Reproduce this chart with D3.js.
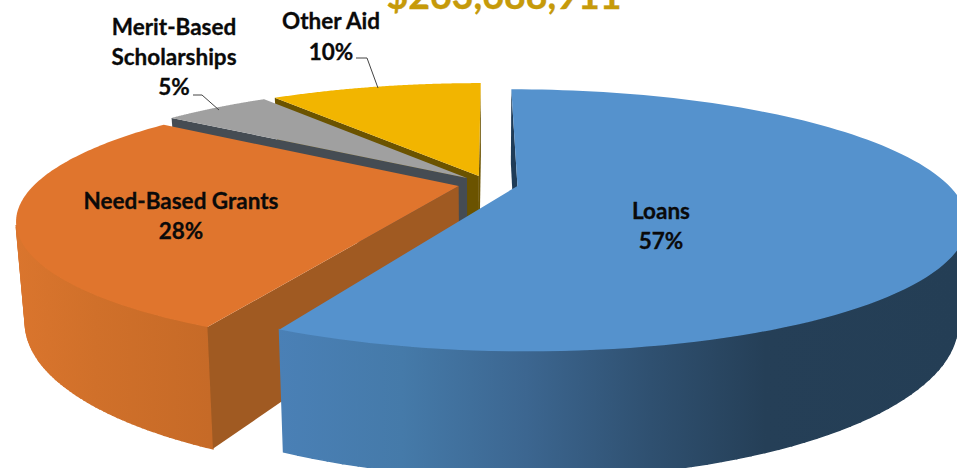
<!DOCTYPE html>
<html>
<head>
<meta charset="utf-8">
<script src="https://cdnjs.cloudflare.com/ajax/libs/d3/7.8.5/d3.min.js"></script>
<style>
html, body { margin: 0; padding: 0; background: #fff; overflow: hidden; }
svg { display: block; }
text { font-family: Lato, "Open Sans", sans-serif; font-weight: 700; fill: #0a0a0a; stroke: #0a0a0a; stroke-width: 0.3px; }
</style>
</head>
<body>
<svg id="chart" width="957" height="468"></svg>
<script>
var titleText = '$263,688,911';
var categories = ['Loans', 'Need-Based Grants', 'Merit-Based Scholarships', 'Other Aid'];
var values = [57.2, 27.8, 5, 10];
var topColors = ['#5592cd', '#e0752d', '#a0a0a0', '#f2b500'];
var faceColors = ['#1f3c58', '#a05a22', '#454c53', '#6b5300'];
var radii = [1, 0.985, 1, 1];

var _CX = 488, _CY = 184,
  _A = 430, _B = 121, _DEPTH = 93,
  _PERSP = 0.2615, _SHRINK = 0.02, _EXPLODE = 0.07;

var svg = d3.select('#chart');

var xScale = d3.scaleLinear().domain([-1, 1]).range([_CX - _A, _CX + _A]);
var yScale = d3.scaleLinear().domain([-1, 1]).range([_CY - _B, _CY + _B]);
var zScale = d3.scaleLinear().domain([0, 1]).range([0, _DEPTH]);

// disk coords to screen, z = 0 on top of the pie and 1 at the bottom
function project(u, v, z) {
  var w = 1 - _PERSP * v;
  return [
    _CX + (xScale(u) - _CX) / (w * (1 + _SHRINK * z)),
    (yScale(v) + zScale(z)) / w + _CY * (1 - 1 / w)
  ];
}

var pie = d3.pie().sort(null).startAngle(0).endAngle(2 * Math.PI);
var arcs = pie(values);

var line = d3.line();

var defs = svg.append('defs');

function wallGradient(id, stops) {
  var g = defs.append('linearGradient')
    .attr('id', id)
    .attr('gradientUnits', 'userSpaceOnUse')
    .attr('x1', 0).attr('y1', 0)
    .attr('x2', 957).attr('y2', 0);
  g.selectAll('stop').data(stops).enter().append('stop')
    .attr('offset', function(d) { return d[0]; })
    .attr('stop-color', function(d) { return d[1]; });
}

wallGradient('wall-0', [[0.29, '#4a80b6'], [0.42, '#457aa9'], [0.55, '#3c6690'], [0.68, '#2f5070'], [0.8, '#253f57'], [1, '#243e55']]);
wallGradient('wall-1', [[0, '#dc762e'], [0.1, '#d0702a'], [0.22, '#c66a27'], [1, '#c06425']]);
wallGradient('wall-2', [[0, '#5a5f64'], [1, '#5a5f64']]);
wallGradient('wall-3', [[0, '#7c6100'], [1, '#7c6100']]);

// painted back to front
var order = [3, 2, 1, 0];

order.forEach(function(i) {
  var a = arcs[i];
  var mid = (a.startAngle + a.endAngle) / 2;
  var r = radii[i];
  var ox = _EXPLODE * Math.sin(mid), oy = -_EXPLODE * Math.cos(mid);
  var steps = d3.range(0, 121).map(function(k) {
    return a.startAngle + (a.endAngle - a.startAngle) * k / 120;
  });
  function rim(t, z) { return project(ox + r * Math.sin(t), oy - r * Math.cos(t), z); }
  var apex0 = project(ox, oy, 0), apex1 = project(ox, oy, 1);

  var g = svg.append('g').attr('class', 'slice slice-' + i);

  // outer wall, one strip per step, back strips are skipped
  d3.pairs(steps).forEach(function(p) {
    var strip = [rim(p[0], 0), rim(p[1], 0), rim(p[1], 1), rim(p[0], 1)];
    if (d3.polygonArea(strip) < 0) return;
    g.append('path')
      .attr('d', line(strip) + 'Z')
      .attr('fill', 'url(#wall-' + i + ')')
      .attr('stroke', 'url(#wall-' + i + ')')
      .attr('stroke-width', 1.5);
  });

  // cut faces, only the ones turned to the viewer (d3.polygonArea is y-down)
  [[a.startAngle, 1], [a.endAngle, -1]].forEach(function(f) {
    var quad = [apex0, rim(f[0], 0), rim(f[0], 1), apex1];
    if (d3.polygonArea(quad) * f[1] > 0) {
      g.append('path')
        .attr('d', line(quad) + 'Z')
        .attr('fill', faceColors[i]);
    }
  });

  // top
  var top = [apex0].concat(steps.map(function(t) { return rim(t, 0); }));
  g.append('path')
    .attr('d', line(top) + 'Z')
    .attr('fill', topColors[i]);
});

// leader lines
var leaders = [
  [[356, 58], [367, 58], [378, 88]],
  [[193, 95], [202, 95], [219, 110]]
];
svg.selectAll('path.leader').data(leaders).enter().append('path')
  .attr('class', 'leader')
  .attr('d', function(d) { return line(d); })
  .attr('fill', 'none')
  .attr('stroke', '#444')
  .attr('stroke-width', 1);

function label(x, lines) {
  var t = svg.append('text').attr('text-anchor', 'middle').style('font-size', '22.5px');
  lines.forEach(function(l) {
    t.append('tspan').attr('x', x).attr('y', l[1]).text(l[0]);
  });
}

function pct(i) { return Math.round(values[i]) + '%'; }

label(661, [[categories[0], 219], [pct(0), 249]]);
label(181, [[categories[1], 209], [pct(1), 239]]);
label(174, [['Merit-Based', 35], ['Scholarships', 65], [pct(2), 95]]);
label(331, [[categories[3], 29], [pct(3), 60]]);

svg.append('text')
  .attr('x', 504).attr('y', 9)
  .attr('text-anchor', 'middle')
  .style('font-size', '37.5px')
  .style('fill', '#c69a0a')
  .style('stroke', '#c69a0a')
  .text(titleText);
</script>
</body>
</html>
